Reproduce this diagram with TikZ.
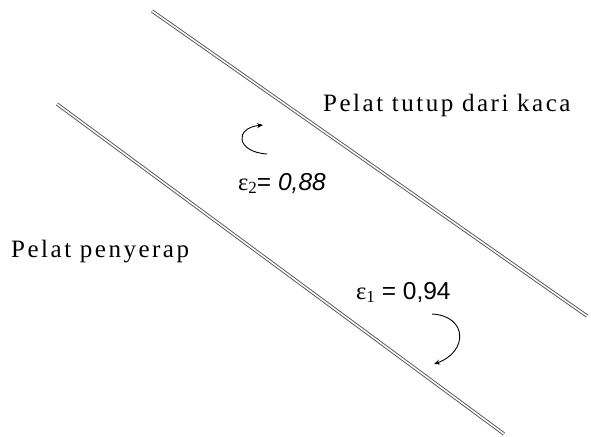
\documentclass[tikz,border=0pt]{standalone}
\usepackage{fontspec}
\setmainfont{Liberation Serif}
\newfontfamily\lblfont[LetterSpace=10]{Liberation Serif}
\newfontfamily\numfont{Liberation Sans}
\usetikzlibrary{arrows.meta}
\begin{document}
\begin{tikzpicture}[x=1pt,y=-1pt,
  plate/.style={draw=black!65,line width=0.95pt,double=white,double distance=1.5pt},
  lbl/.style={inner sep=0pt,anchor=base west,font=\fontsize{25}{25}\selectfont\lblfont},
  epslbl/.style={inner sep=0pt,anchor=base west,font=\fontsize{24.5}{24.5}\selectfont},
  radarrow/.style={draw=black,line width=0.9pt,-{Stealth[length=6pt,width=5pt]}}]
\useasboundingbox (0,0) rectangle (591,436);
% plates
\coordinate (u1) at (152,11);
\coordinate (u2) at (587,316);
\coordinate (l1) at (57,104);
\coordinate (l2) at (504,434);
\draw[plate] (u1) -- (u2);
\draw[plate] (l1) -- (l2);
% labels
\node[lbl] (tutup) at (323,111) {Pelat tutup dari kaca};
\node[lbl] (penyerap) at (11,257) {Pelat penyerap};
\node[epslbl] (eps2) at (238,190) {ε\raisebox{-0.35ex}{\fontsize{17}{17}\selectfont 2}{\numfont = \textit{0,88}}};
\node[epslbl] (eps1) at (356,299) {ε\raisebox{-0.35ex}{\fontsize{17}{17}\selectfont 1}{\numfont\ = 0,94}};
% radiation arrows
\coordinate (a2s) at (267,154);
\coordinate (a2e) at (263,125);
\draw[radarrow] (a2s) .. controls (236,152) and (234,128) .. (a2e);
\coordinate (a1s) at (432,314);
\coordinate (a1e) at (434,364);
\draw[radarrow] (a1s) .. controls (468,316) and (468,352) .. (a1e);
\end{tikzpicture}
\end{document}
